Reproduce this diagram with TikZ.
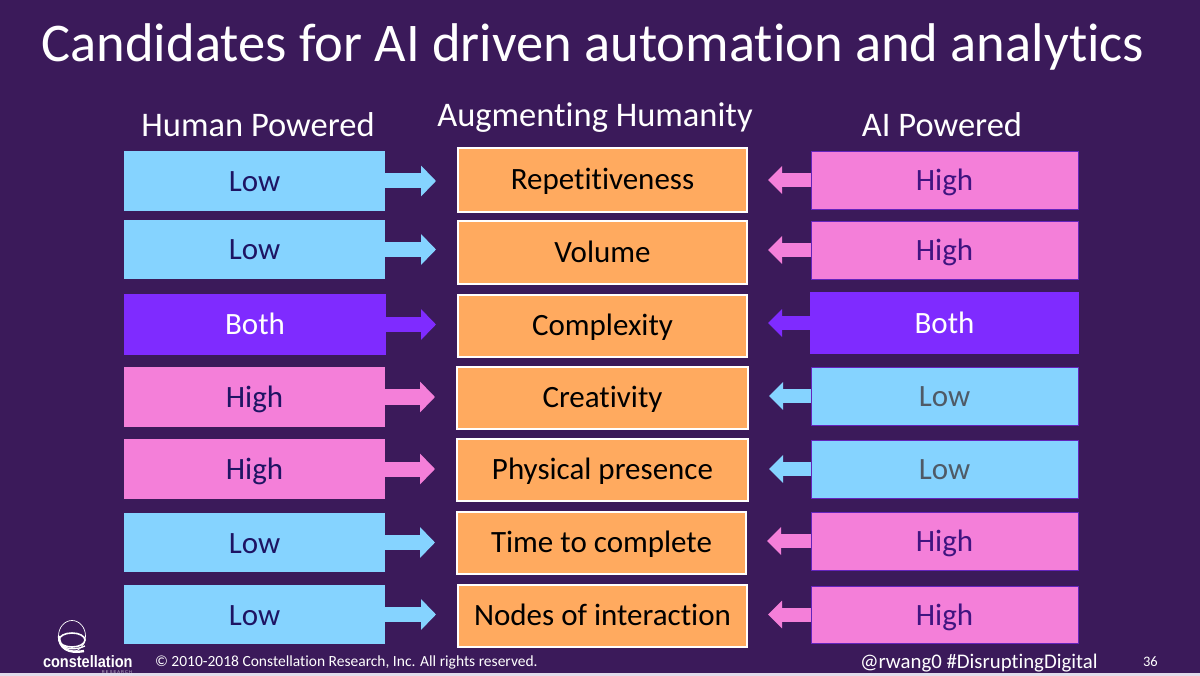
\documentclass[tikz,border=0pt]{standalone}
\usepackage{fontspec}
\setmainfont[Ligatures=NoCommon]{Carlito}
\setsansfont{Liberation Sans}
\usetikzlibrary{arrows.meta}
\definecolor{bgc}{HTML}{3B1A5A}
\definecolor{cy}{HTML}{85D3FF}
\definecolor{pk}{HTML}{F47FD9}
\definecolor{pu}{HTML}{7F2BFF}
\definecolor{org}{HTML}{FFAA5F}
\definecolor{txnavy}{HTML}{1E1463}
\definecolor{txpur}{HTML}{3F1480}
\definecolor{txgray}{HTML}{4F5A66}
\definecolor{strip}{HTML}{E0DCEA}
\tikzset{
  x=1pt,y=-1pt,
  every node/.style={inner sep=0pt,outer sep=0pt,align=center},
  vbox/.style={font=\fontsize{31}{34}\selectfont,text height=21pt,text depth=0pt},
  lowl/.style={vbox,fill=cy,text=txnavy},
  highl/.style={vbox,fill=pk,text=txnavy},
  lowr/.style={vbox,fill=cy,text=txgray,draw=pu!60!bgc,line width=0.8pt},
  highr/.style={vbox,fill=pk,text=txpur,draw=pu!60!bgc,line width=0.8pt},
  bothb/.style={vbox,fill=pu,text=white},
  midbox/.style={fill=org,draw=white,line width=1.5pt,text=black,font=\fontsize{31}{34}\selectfont,text height=19.5pt,text depth=0pt},
  head/.style={text=white,font=\fontsize{34.5}{38}\selectfont},
  arrL/.style={line width=15pt,shorten >=22pt,-{Triangle[length=15pt,width=30pt]}},
  arrR/.style={line width=14pt,shorten >=21pt,-{Triangle[length=14pt,width=27pt]}},
}
% name, x0, y0, x1, y1, style, text
\newcommand{\rbox}[7]{\node[#6,minimum width=#4pt-#2pt,minimum height=#5pt-#3pt] (#1) at ({(#2+#4)/2},{(#3+#5)/2}) {#7};}
\begin{document}
\begin{tikzpicture}
\useasboundingbox (0,0) rectangle (1200,676);
\fill[bgc] (0,0) rectangle (1200,676);
\fill[strip] (0,673) rectangle (1200,676);
\node[text=white,font=\fontsize{54.5}{58}\selectfont,anchor=center] (title) at (593,47) {Candidates for AI driven automation and analytics};
\node[head] (hl) at (258,124.5) {Human Powered};
\node[head] (hm) at (595,117.5) {Augmenting Humanity};
\node[head] (hr) at (942,124.5) {AI Powered};
\rbox{l1}{124}{151}{385}{211}{lowl}{Low}
\rbox{l2}{124}{220}{385}{279}{lowl}{Low}
\rbox{l3}{124}{294}{386}{355}{bothb}{Both}
\rbox{l4}{124}{367}{385}{427}{highl}{High}
\rbox{l5}{124}{439}{385}{499}{highl}{High}
\rbox{l6}{124}{513}{385}{572}{lowl}{Low}
\rbox{l7}{124}{585}{385}{644}{lowl}{Low}
\rbox{m1}{458}{148}{747}{212}{midbox}{Repetitiveness}
\rbox{m2}{458}{221}{747}{284}{midbox}{Volume}
\rbox{m3}{458}{295}{747}{357}{midbox}{Complexity}
\rbox{m4}{457}{367}{748}{429}{midbox}{Creativity}
\rbox{m5}{457}{439}{748}{501}{midbox}{Physical presence}
\rbox{m6}{457}{512}{746}{574}{midbox}{Time to complete}
\rbox{m7}{458}{585}{747}{647}{midbox}{Nodes of interaction}
\rbox{r1}{811}{151}{1078}{209}{highr}{High}
\rbox{r2}{811}{221}{1078}{279}{highr}{High}
\rbox{r3}{810}{292}{1079}{354}{bothb}{Both}
\rbox{r4}{811}{367}{1078}{425}{lowr}{Low}
\rbox{r5}{811}{440}{1078}{498}{lowr}{Low}
\rbox{r6}{811}{512}{1078}{570}{highr}{High}
\rbox{r7}{811}{586}{1078}{643}{highr}{High}
\draw[arrL,cy] (l1.east) -- (l1.east -| m1.west);
\draw[arrL,cy] (l2.east) -- (l2.east -| m2.west);
\draw[arrL,pu] (l3.east) -- (l3.east -| m3.west);
\draw[arrL,pk] (l4.east) -- (l4.east -| m4.west);
\draw[arrL,pk] (l5.east) -- (l5.east -| m5.west);
\draw[arrL,cy] (l6.east) -- (l6.east -| m6.west);
\draw[arrL,cy] (l7.east) -- (l7.east -| m7.west);
\draw[arrR,pk] (r1.west) -- (r1.west -| m1.east);
\draw[arrR,pk] (r2.west) -- (r2.west -| m2.east);
\draw[arrR,pu] (r3.west) -- (r3.west -| m3.east);
\draw[arrR,cy] (r4.west) -- (r4.west -| m4.east);
\draw[arrR,cy] (r5.west) -- (r5.west -| m5.east);
\draw[arrR,pk] (r6.west) -- (r6.west -| m6.east);
\draw[arrR,pk] (r7.west) -- (r7.west -| m7.east);
% logo
\draw[white,line width=0.7pt] (72,636) ellipse [x radius=13.5,y radius=15.5];
\draw[white,line width=1.6pt] (72,640) ellipse [x radius=13,y radius=7];
\draw[white,line width=2.4pt] (59,636) .. controls (59,648) and (68,654) .. (84,651);
\draw[white,line width=1.3pt] (61,644) .. controls (66,650) and (76,650) .. (85,646);
\node[text=white,font=\sffamily\bfseries\fontsize{16.5}{18}\selectfont,anchor=base west] (logo) at (43,667) {\scalebox{0.88}[1]{constellation}};
\node[text=white!75!bgc,font=\sffamily\fontsize{4}{5}\selectfont,anchor=base east] (logor) at (132,673) {R E S E A R C H};
\node[text=white,font=\fontsize{15.5}{17}\selectfont,anchor=base west] (copy) at (155,666) {© 2010-2018 Constellation Research, Inc. All rights reserved.};
\node[text=white,font=\fontsize{20.8}{23}\selectfont,anchor=base west] (tag) at (860,668) {@rwang0 \#DisruptingDigital};
\node[text=white,font=\fontsize{14.5}{16}\selectfont,anchor=base west] (pg) at (1143,666) {36};
\end{tikzpicture}
\end{document}
